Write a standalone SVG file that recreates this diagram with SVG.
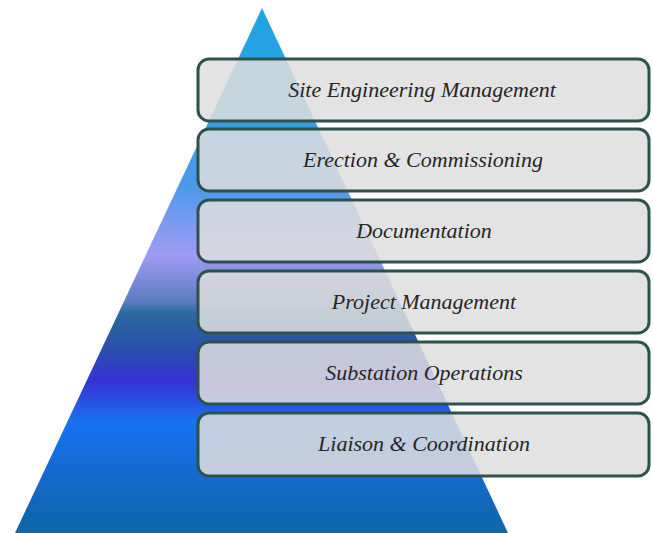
<svg xmlns="http://www.w3.org/2000/svg" width="653" height="533" viewBox="0 0 653 533">
  <defs>
    <linearGradient id="tri" gradientUnits="userSpaceOnUse" x1="0" y1="8" x2="0" y2="533">
      <stop offset="0" stop-color="#1ea4e2"/>
      <stop offset="0.2" stop-color="#34a0e2"/>
      <stop offset="0.34" stop-color="#4d98e8"/>
      <stop offset="0.47" stop-color="#a09cf5"/>
      <stop offset="0.56" stop-color="#5a7cc0"/>
      <stop offset="0.58" stop-color="#2b6a9c"/>
      <stop offset="0.65" stop-color="#2a4fae"/>
      <stop offset="0.71" stop-color="#3532d2"/>
      <stop offset="0.79" stop-color="#1872f0"/>
      <stop offset="0.9" stop-color="#1468c8"/>
      <stop offset="1" stop-color="#0f66a8"/>
    </linearGradient>
  </defs>
  <style>
    .box { fill: #dedede; fill-opacity: 0.86; stroke: #2d524e; stroke-width: 3; }
    .lbl { font-family: "Liberation Serif", "DejaVu Serif", serif; font-style: italic; font-size: 22px; fill: #262626; text-anchor: middle; }
  </style>
  <rect width="653" height="533" fill="#ffffff"/>
  <polygon id="pyramid" points="262,8 508,533 15,533" fill="url(#tri)"/>
  <g id="connectors"/>
  <g id="n1"><rect class="box" x="198" y="59" width="451" height="62" rx="11"/><text class="lbl" x="422" y="97">Site Engineering Management</text></g>
  <g id="n2"><rect class="box" x="198" y="129" width="451" height="62" rx="11"/><text class="lbl" x="423" y="167">Erection &amp; Commissioning</text></g>
  <g id="n3"><rect class="box" x="198" y="200" width="451" height="62" rx="11"/><text class="lbl" x="424" y="238">Documentation</text></g>
  <g id="n4"><rect class="box" x="198" y="271" width="451" height="62" rx="11"/><text class="lbl" x="424" y="309">Project Management</text></g>
  <g id="n5"><rect class="box" x="198" y="342" width="451" height="62" rx="11"/><text class="lbl" x="424" y="380">Substation Operations</text></g>
  <g id="n6"><rect class="box" x="198" y="413" width="451" height="63" rx="11"/><text class="lbl" x="424" y="451">Liaison &amp; Coordination</text></g>
</svg>
